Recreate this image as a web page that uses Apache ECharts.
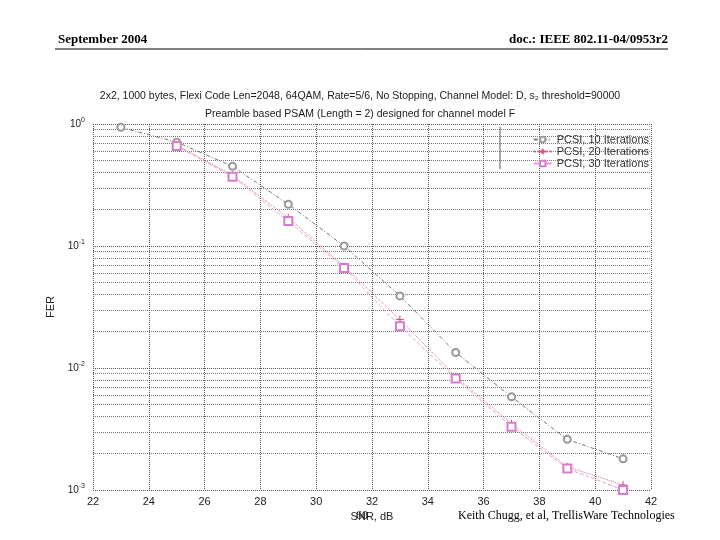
<!DOCTYPE html>
<html><head><meta charset="utf-8">
<script src="https://cdn.jsdelivr.net/npm/echarts@6/dist/echarts.min.js"></script>
<style>html,body{margin:0;padding:0;background:#fff}#c{width:720px;height:540px}</style>
</head><body><div id="c"></div>
<script>
var snr10 = [23, 25, 27, 29, 31, 33, 35, 37, 39, 41];
var fer10 = [0.94, 0.71, 0.45, 0.22, 0.10, 0.039, 0.0134, 0.0058, 0.0026, 0.0018];
var snr20 = [25, 27, 29, 31, 33, 35, 37, 39, 41];
var fer20 = [0.67, 0.38, 0.17, 0.068, 0.025, 0.0085, 0.0035, 0.00155, 0.0011];
var fer30 = [0.66, 0.37, 0.16, 0.066, 0.022, 0.0082, 0.0033, 0.0015, 0.001];
var names = ['PCSI, 10 Iterations', 'PCSI, 20 Iterations', 'PCSI, 30 Iterations'];

function pairs(xs, ys) {
  return xs.map(function (x, i) { return [x, ys[i]]; });
}

var chart = echarts.init(document.getElementById('c'));
var font = 'Liberation Sans';
chart.setOption({
  animation: false,
  textStyle: { fontFamily: font },
  title: [
    { text: '2x2, 1000 bytes, Flexi Code Len=2048, 64QAM, Rate=5/6, No Stopping, Channel Model: D, s\u2082 threshold=90000',
      left: 'center', top: 86, textStyle: { fontSize: 10.5, fontWeight: 'normal', color: '#222' } },
    { text: 'Preamble based PSAM (Length = 2) designed for channel model F',
      left: 'center', top: 104, textStyle: { fontSize: 10.5, fontWeight: 'normal', color: '#222' } }
  ],
  graphic: [
    { type: 'text', left: 58, top: 33, style: { text: 'September 2004', font: 'bold 13px "Liberation Serif"', fill: '#000' } },
    { type: 'text', right: 52, top: 33, style: { text: 'doc.: IEEE 802.11-04/0953r2', font: 'bold 13px "Liberation Serif"', fill: '#000' } },
    { type: 'line', shape: { x1: 55, y1: 49, x2: 668, y2: 49 }, style: { stroke: '#000', lineWidth: 1 } },
    { type: 'text', left: 356, top: 510, style: { text: '60', font: '12px "Liberation Serif"', fill: '#000' } },
    { type: 'text', left: 458, top: 510, style: { text: 'Keith Chugg, et al, TrellisWare Technologies', font: '12px "Liberation Serif"', fill: '#000' } },
    { type: 'line', shape: { x1: 500, y1: 127, x2: 500, y2: 169 }, style: { stroke: '#555', lineWidth: 1 } }
  ],
  legend: {
    orient: 'vertical', right: 66, top: 129, itemGap: 1, itemWidth: 18, itemHeight: 7,
    textStyle: { fontSize: 11, color: '#333' },
    data: names
  },
  grid: { left: 93, right: 69, top: 124, bottom: 50 },
  xAxis: {
    type: 'value', min: 22, max: 42, interval: 2,
    name: 'SNR, dB', nameLocation: 'middle', nameGap: 14, nameTextStyle: { fontSize: 11, color: '#222' },
    axisLine: { show: false }, axisTick: { show: false },
    axisLabel: { fontSize: 11, color: '#222', margin: 6 },
    splitLine: { lineStyle: { type: 'dotted', color: '#555' } }
  },
  yAxis: {
    type: 'log', min: 0.001, max: 1, logBase: 10,
    name: 'FER', nameLocation: 'middle', nameGap: 22, nameRotate: 90, nameTextStyle: { fontSize: 11, color: '#222' },
    axisLine: { show: false }, axisTick: { show: false },
    axisLabel: { fontSize: 10, color: '#222', formatter: function (v) {
      var e = Math.round(Math.log10(v));
      return '10{s|' + e + '}';
    }, rich: { s: { fontSize: 7, verticalAlign: 'top', padding: [0, 0, 8, 0] } } },
    splitLine: { lineStyle: { type: 'dotted', color: '#555' } },
    minorTick: { show: false, splitNumber: 9 },
    minorSplitLine: { show: true, lineStyle: { type: 'dotted', color: '#777' } }
  },
  series: [
    { name: names[0], type: 'line', data: pairs(snr10, fer10), symbol: 'emptyCircle', symbolSize: 7,
      lineStyle: { color: '#777', width: 1, type: [4, 2, 1, 2] }, itemStyle: { color: '#999', borderWidth: 1 } },
    { name: names[1], type: 'line', data: pairs(snr20, fer20), symbol: 'path://M5,0L5,10M0,5L10,5', symbolSize: 8,
      lineStyle: { color: '#d66a8a', width: 1, type: 'dotted' }, itemStyle: { color: '#d0507a', borderColor: '#d0507a', borderWidth: 1 } },
    { name: names[2], type: 'line', data: pairs(snr20, fer30), symbol: 'emptyRect', symbolSize: 8,
      lineStyle: { color: '#e0a0d8', width: 1, type: 'dashed' }, itemStyle: { color: '#d87ad0', borderWidth: 1 } }
  ]
});
</script></body></html>
